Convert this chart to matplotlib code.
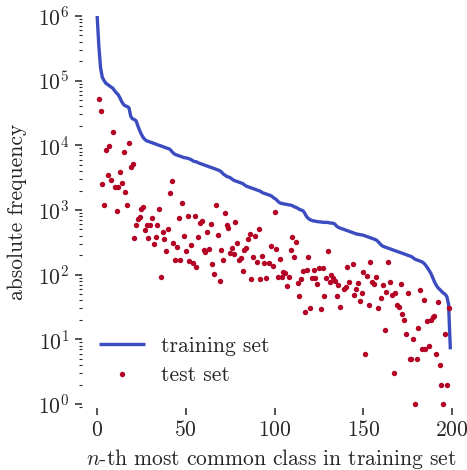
import numpy as np
import matplotlib
matplotlib.use("Agg")
import matplotlib.pyplot as plt
from matplotlib.ticker import LogLocator, NullFormatter, FixedLocator

plt.rcParams['font.family'] = ['cmr10', 'DejaVu Serif']
plt.rcParams['mathtext.fontset'] = 'cm'
plt.rcParams['axes.formatter.use_mathtext'] = True
plt.rcParams['axes.unicode_minus'] = False

# training set: absolute frequency of the n-th most common class (n = 0..199)
train_counts = [
    1120000, 355000, 158000, 112000, 100000, 91200, 87100, 83200, 79400, 75900,
    69200, 64600, 60300, 53700, 46800, 42700, 40700, 39800, 38000, 28200,
    25700, 25100, 24000, 20000, 17000, 14800, 13200, 12300, 11700, 11500,
    11200, 11000, 10700, 10500, 10200, 10000, 9800, 9550, 9330, 9120,
    8910, 8710, 8130, 7590, 7240, 7080, 6920, 6760, 6610, 6460,
    6400, 6310, 6170, 6030, 5750, 5620, 5560, 5370, 5250, 5130,
    5010, 4900, 4790, 4680, 4570, 4470, 4370, 4270, 4170, 4070,
    3890, 3630, 3470, 3310, 3240, 3160, 3020, 2880, 2820, 2750,
    2690, 2630, 2570, 2450, 2340, 2290, 2240, 2190, 2140, 2090,
    2040, 2000, 1950, 1860, 1820, 1780, 1740, 1700, 1660, 1580,
    1510, 1450, 1350, 1290, 1260, 1250, 1230, 1220, 1200, 1190,
    1170, 1120, 1100, 1070, 1020, 1000, 977, 891, 794, 741,
    708, 692, 676, 672, 661, 658, 653, 646, 645, 644,
    642, 631, 628, 624, 603, 562, 537, 525, 513, 501,
    490, 479, 468, 457, 447, 437, 427, 422, 417, 412,
    407, 398, 389, 380, 372, 363, 355, 347, 331, 309,
    288, 275, 269, 263, 257, 251, 245, 240, 234, 229,
    224, 219, 214, 209, 204, 200, 195, 191, 182, 174,
    170, 166, 162, 158, 151, 141, 129, 117, 105, 91,
    78, 69, 63, 59, 55, 52, 50, 46, 35, 7,
]

# test set: class rank and absolute frequency of each visible point
test_class = [
    1, 2, 3, 4, 5, 6, 7, 8, 9, 10,
    11, 12, 13, 14, 15, 16, 17, 18, 19, 20,
    21, 22, 23, 24, 25, 26, 27, 28, 29, 30,
    31, 32, 33, 34, 35, 36, 37, 38, 39, 40,
    41, 42, 43, 44, 45, 46, 47, 48, 49, 50,
    51, 52, 53, 54, 55, 56, 57, 58, 59, 60,
    61, 62, 63, 64, 65, 66, 67, 68, 69, 70,
    71, 72, 73, 74, 75, 76, 77, 78, 79, 80,
    81, 82, 83, 84, 85, 86, 87, 88, 89, 90,
    91, 92, 93, 94, 95, 97, 98, 99, 100, 101,
    102, 103, 104, 105, 106, 107, 108, 109, 110, 111,
    112, 113, 114, 115, 116, 117, 118, 119, 120, 121,
    122, 123, 124, 125, 126, 127, 128, 129, 130, 131,
    132, 133, 134, 135, 136, 137, 139, 140, 141, 142,
    144, 145, 146, 147, 148, 149, 150, 151, 152, 153,
    154, 155, 156, 157, 158, 160, 161, 162, 163, 164,
    165, 166, 167, 168, 169, 170, 171, 172, 173, 174,
    175, 176, 177, 178, 179, 180, 181, 182, 183, 184,
    185, 186, 187, 188, 189, 190, 191, 192, 193, 194,
    195, 196, 197, 198,
]
test_counts = [
    52000, 34000, 2500, 1180, 8500, 3450, 9700, 2900, 16000, 2300,
    970, 2300, 3850, 2600, 8000, 1900, 1200, 10700, 4700, 5100,
    370, 590, 715, 785, 1020, 1120, 485, 585, 375, 580,
    750, 297, 385, 580, 1050, 93, 450, 360, 232, 510,
    1850, 2800, 310, 166, 270, 740, 168, 1290, 400, 235,
    800, 162, 290, 149, 800, 131, 380, 630, 675, 240,
    226, 455, 250, 610, 146, 101, 1180, 405, 80, 240,
    168, 890, 585, 525, 213, 254, 209, 650, 310, 168,
    178, 115, 240, 254, 355, 425, 85, 190, 400, 158,
    500, 85, 195, 153, 90, 153, 277, 136, 940, 248,
    91, 172, 93, 111, 107, 66, 93, 240, 376, 186,
    323, 73, 46, 85, 114, 26, 117, 186, 31, 88,
    117, 90, 72, 125, 29, 125, 47, 90, 234, 78,
    100, 88, 80, 46, 69, 32, 61, 64, 133, 76,
    146, 48, 59, 73, 39, 52, 108, 6, 96, 34,
    158, 78, 72, 93, 31, 43, 69, 14, 54, 158,
    78, 48, 3, 52, 34, 32, 72, 25, 20, 12,
    52, 5, 5, 10, 1, 5, 15, 58, 7, 40,
    7, 19, 8, 20, 22, 23, 6, 38, 4, 2,
    1, 12, 2, 31,
]

x_ticks = [0, 50, 100, 150, 200]

blue = '#3b4cc0'
red = '#b40426'
ink = '#262626'
FS = 15.5

W, H = 467, 470
fig = plt.figure(figsize=(W / 100, H / 100), dpi=100)
ax = fig.add_axes([82 / W, (H - 408) / H, 379 / W, 392 / H])

ax.plot(np.arange(len(train_counts)), train_counts, color=blue, lw=2.4,
        label='training set', solid_capstyle='butt', zorder=2)
ax.plot(test_class, test_counts, linestyle='none', marker='o', ms=3.9,
        mew=0, color=red, label='test set', zorder=3)

ax.set_yscale('log')
ax.set_ylim(0.867, 1.0e6)
ax.set_xlim(-8.45, 205)
ax.xaxis.set_major_locator(FixedLocator(x_ticks))
ax.yaxis.set_major_locator(LogLocator(base=10, numticks=12))
ax.yaxis.set_minor_locator(LogLocator(base=10, subs=np.arange(2, 10), numticks=12))
ax.yaxis.set_minor_formatter(NullFormatter())

for s in ax.spines.values():
    s.set_visible(False)

ax.tick_params(which='major', direction='out', length=5, width=1.1, color=ink,
               labelcolor=ink, labelsize=FS, pad=4)
ax.tick_params(which='minor', direction='out', length=2.5, width=0.8, color=ink)

ax.set_xlabel(r'$n$-th most common class in training set', fontsize=FS, color=ink)
ax.set_ylabel('absolute frequency', fontsize=FS, color=ink)
ax.xaxis.set_label_coords(0.5, -0.1)
ax.yaxis.set_label_coords(-0.145, 0.5)

leg = ax.legend(loc='lower left', bbox_to_anchor=(0.005, 0.02), frameon=False,
                fontsize=FS, handlelength=2.15, handletextpad=0.75,
                labelspacing=0.45, numpoints=1, borderaxespad=0.3)
for t in leg.get_texts():
    t.set_color(ink)

fig.savefig('out.png', dpi=100)
